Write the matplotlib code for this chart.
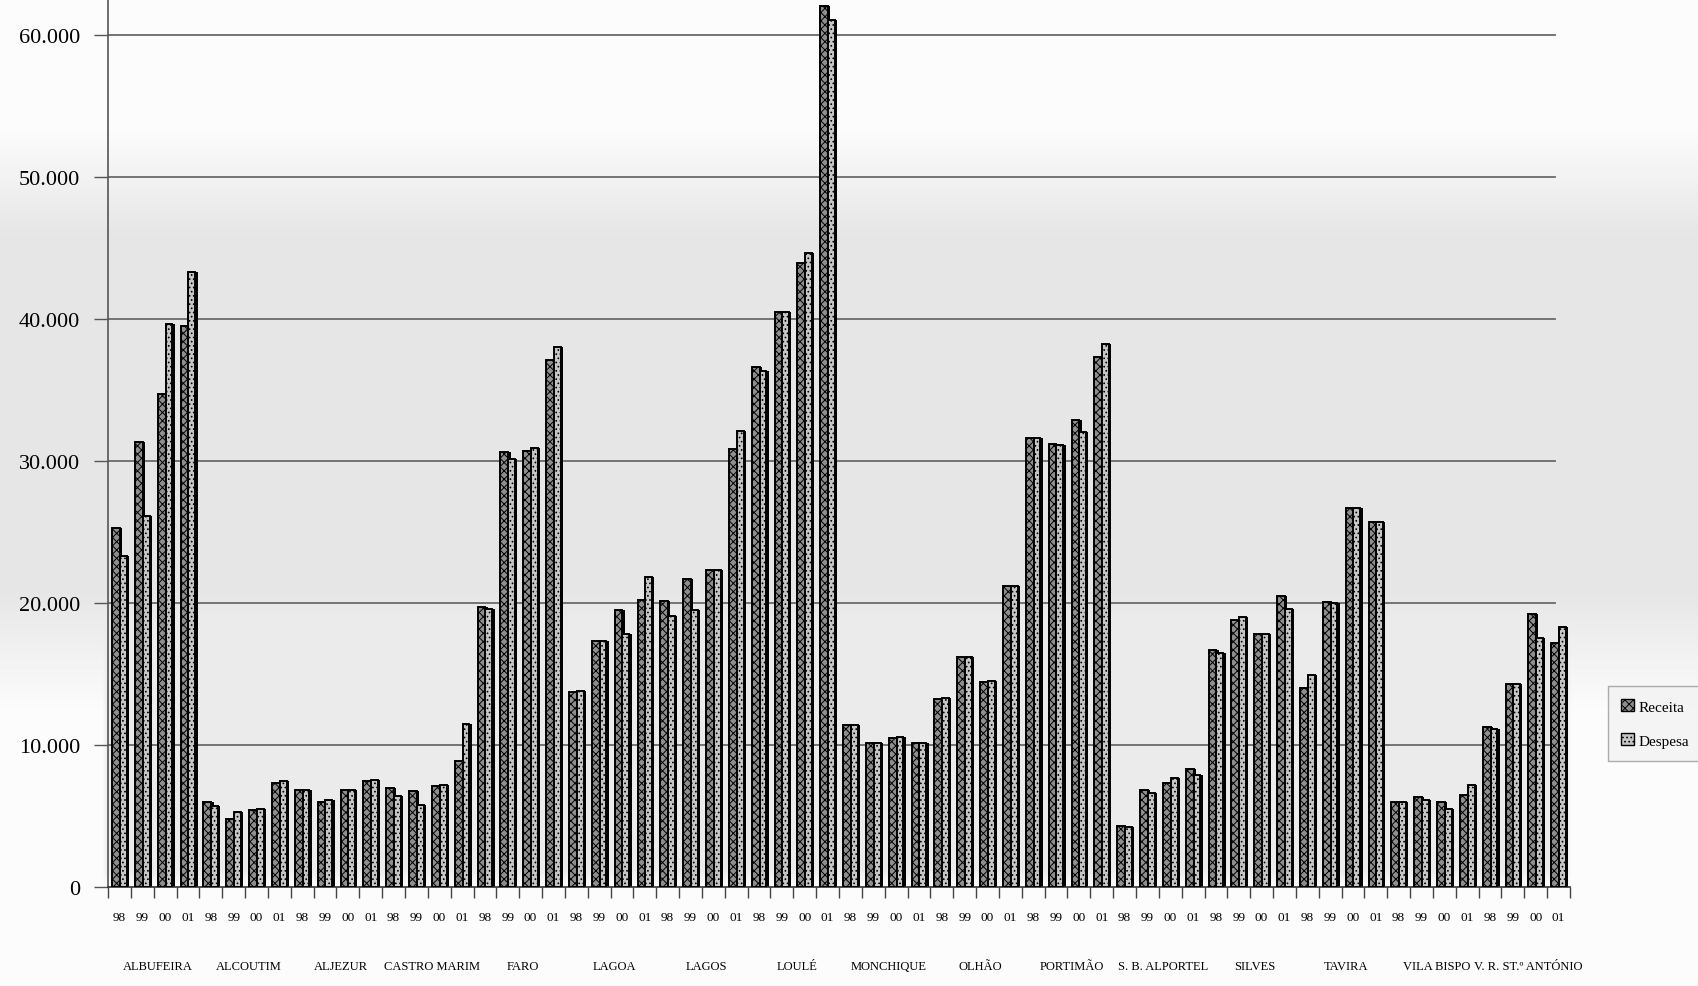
import numpy as np
import matplotlib
matplotlib.use("Agg")
import matplotlib.pyplot as plt
from matplotlib.patches import Patch
from matplotlib.ticker import FuncFormatter, FixedLocator

plt.rcParams['font.family'] = ['Liberation Serif', 'DejaVu Serif']
plt.rcParams['hatch.linewidth'] = 0.7

# municipalities of the Algarve, one block of four years each
municipios = ["ALBUFEIRA", "ALCOUTIM", "ALJEZUR", "CASTRO MARIM", "FARO", "LAGOA",
              "LAGOS", "LOULÉ", "MONCHIQUE", "OLHÃO", "PORTIMÃO", "S. B. ALPORTEL",
              "SILVES", "TAVIRA", "VILA BISPO", "V. R. ST.º ANTÓNIO"]
anos = ["98", "99", "00", "01"]

# values in thousands, 4 years per municipality
receita = [25.3, 31.3, 34.7, 39.5,
           6.0, 4.8, 5.45, 7.35,
           6.85, 6.0, 6.85, 7.45,
           7.0, 6.75, 7.1, 8.9,
           19.7, 30.6, 30.7, 37.1,
           13.7, 17.3, 19.5, 20.2,
           20.1, 21.7, 22.3, 30.8,
           36.6, 40.5, 43.9, 62.0,
           11.4, 10.1, 10.5, 10.1,
           13.2, 16.2, 14.4, 21.2,
           31.6, 31.2, 32.9, 37.3,
           4.3, 6.85, 7.3, 8.3,
           16.7, 18.8, 17.8, 20.5,
           14.0, 20.05, 26.7, 25.7,
           5.95, 6.3, 5.95, 6.5,
           11.25, 14.3, 19.2, 17.2]
despesa = [23.3, 26.1, 39.6, 43.3,
           5.7, 5.25, 5.5, 7.45,
           6.85, 6.1, 6.85, 7.5,
           6.4, 5.8, 7.2, 11.45,
           19.6, 30.1, 30.9, 38.0,
           13.8, 17.3, 17.8, 21.8,
           19.1, 19.5, 22.3, 32.1,
           36.3, 40.5, 44.6, 61.0,
           11.4, 10.1, 10.55, 10.1,
           13.3, 16.2, 14.5, 21.2,
           31.6, 31.1, 32.0, 38.2,
           4.2, 6.6, 7.7, 7.9,
           16.5, 19.0, 17.8, 19.6,
           14.9, 20.0, 26.7, 25.7,
           5.95, 6.15, 5.5, 7.2,
           11.15, 14.3, 17.5, 18.3]

rec = np.array(receita) * 1000
desp = np.array(despesa) * 1000
n = len(rec)
x = np.arange(n) + 0.5

fig = plt.figure(figsize=(16.99, 9.87), dpi=100)

# grey paper tone behind the chart
bg = fig.add_axes([0, 0, 1, 1], zorder=-10)
H, W = 200, 340
yy = np.linspace(0, 1, H)[:, None]
xx = np.linspace(0, 1, W)[None, :]


def ramp(v, a, b):
    return np.clip((v - a) / (b - a), 0, 1)


band = ramp(yy, 0.13, 0.24) * (1 - ramp(yy, 0.60, 0.72)) * np.ones_like(xx)
inside = ((xx > 0.06) & (xx < 0.925)).astype(float)
plot_zone = ramp(yy, 0.13, 0.24) * (1 - ramp(yy, 0.885, 0.9)) * inside
shade = 0.985 - 0.085 * np.maximum(band, 0.75 * plot_zone)
bg.imshow(shade, cmap='gray', vmin=0, vmax=1, aspect='auto',
          extent=[0, 1, 0, 1], interpolation='bilinear')
bg.axis('off')

ax = fig.add_axes([108 / 1699, 99 / 987, 1462 / 1699, 888 / 987])
ax.set_facecolor('none')

rec_style = dict(facecolor='#8e8e8e', hatch='xxxx', edgecolor='black')
desp_style = dict(facecolor='#c6c6c6', hatch='....', edgecolor='black')

# dark side of each column
ax.bar(x - 0.15 + 0.1, rec, 0.34, color='black', zorder=2)
ax.bar(x + 0.17 + 0.1, desp, 0.30, color='black', zorder=2)
ax.bar(x - 0.15, rec, 0.34, linewidth=1.4, zorder=3, label='Receita', **rec_style)
ax.bar(x + 0.17, desp, 0.30, linewidth=1.4, zorder=4, label='Despesa', **desp_style)

ax.set_xlim(0, n)
ax.set_ylim(0, 62500)
ax.set_yticks(np.arange(0, 60001, 10000))
ax.yaxis.set_major_formatter(FuncFormatter(lambda v, p: f"{v:,.0f}".replace(",", ".")))
ax.tick_params(axis='y', direction='out', length=10, width=1, color='#555',
               labelsize=16, pad=10)
for gy in range(10000, 60001, 10000):
    ax.axhline(gy, xmax=0.99, color='#6a6a6a', linewidth=1.3, zorder=1)

# year labels under each pair, tick marks between pairs
ax.set_xticks(x)
ax.set_xticklabels(anos * len(municipios))
ax.xaxis.set_minor_locator(FixedLocator(np.arange(0, n + 1)))
ax.tick_params(axis='x', which='major', length=0, pad=17, labelsize=9.5)
ax.tick_params(axis='x', which='minor', direction='out', length=8, width=1, color='#444')

for i, nome in enumerate(municipios):
    ax.annotate(nome, xy=(i * 4 + 2, 0), xytext=(3, -57), textcoords='offset points',
                ha='center', va='center', fontsize=9, annotation_clip=False)

for s in ['top', 'right']:
    ax.spines[s].set_visible(False)
ax.spines['left'].set_color('#555')
ax.spines['left'].set_linewidth(1.2)
ax.spines['bottom'].set_color('#333')
ax.spines['bottom'].set_linewidth(1.2)

handles = [Patch(label='Receita', **rec_style), Patch(label='Despesa', **desp_style)]
leg = fig.legend(handles=handles, loc='upper left', bbox_to_anchor=(1600 / 1699, 1 - 679 / 987),
                 frameon=True, fancybox=False, edgecolor='#999999', fontsize=11,
                 handlelength=0.8, handleheight=0.8, handletextpad=0.3,
                 labelspacing=1.3, borderpad=0.9)
leg.get_frame().set_facecolor('#f2f2f2')
leg.get_frame().set_linewidth(1.0)

fig.savefig('out.png', dpi=100)
